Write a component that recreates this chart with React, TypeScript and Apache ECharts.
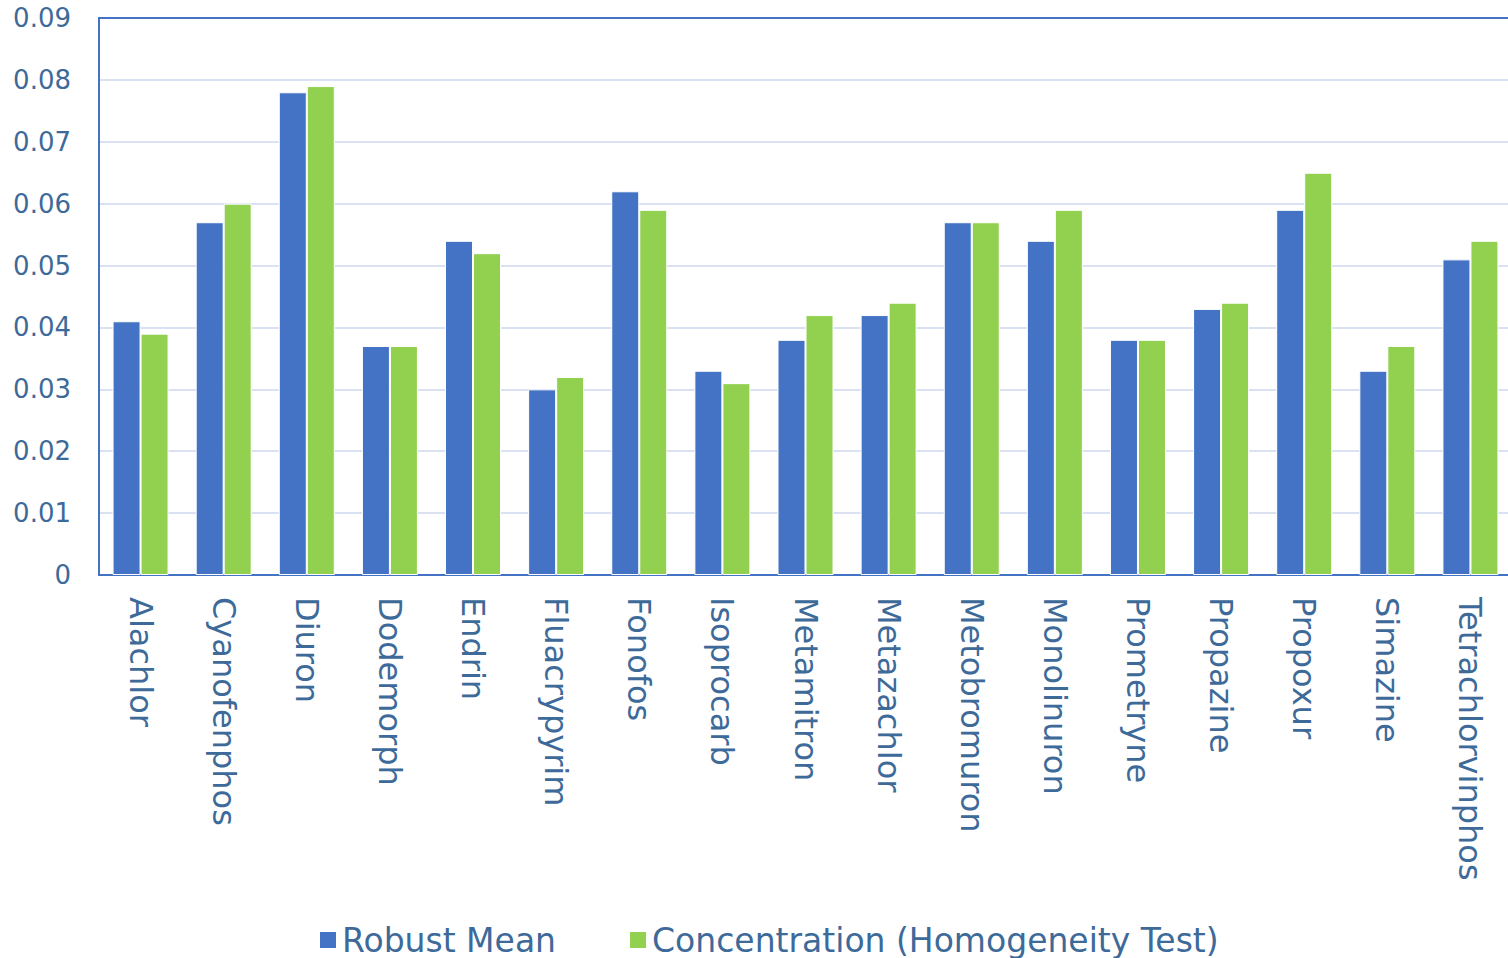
import React, { useEffect, useRef } from "react";
import * as echarts from "echarts";

const categories = [
  "Alachlor", "Cyanofenphos", "Diuron", "Dodemorph", "Endrin", "Fluacrypyrim",
  "Fonofos", "Isoprocarb", "Metamitron", "Metazachlor", "Metobromuron",
  "Monolinuron", "Prometryne", "Propazine", "Propoxur", "Simazine", "Tetrachlorvinphos",
];
const robustMean = [
  0.041, 0.057, 0.078, 0.037, 0.054, 0.030, 0.062, 0.033, 0.038, 0.042, 0.057,
  0.054, 0.038, 0.043, 0.059, 0.033, 0.051,
];
const concentration = [
  0.039, 0.060, 0.079, 0.037, 0.052, 0.032, 0.059, 0.031, 0.042, 0.044, 0.057,
  0.059, 0.038, 0.044, 0.065, 0.037, 0.054,
];
const seriesNames = ["Robust Mean", "Concentration (Homogeneity Test)"];

const TEXT = "#3d6a99";
const FONT = "DejaVu Sans";
const AXIS = "#4472C4";

export default function App() {
  const ref = useRef<HTMLDivElement>(null);
  useEffect(() => {
    if (!ref.current) return;
    const chart = echarts.init(ref.current, null, { renderer: "svg" });
    chart.setOption({
      animation: false,
      backgroundColor: "#ffffff",
      textStyle: { fontFamily: FONT, color: TEXT },
      grid: {
        left: 99,
        top: 18,
        right: 0,
        bottom: 383,
      },
      legend: {
        left: 313,
        top: 917,
        itemWidth: 18,
        itemHeight: 18,
        itemGap: 72,
        icon: "rect",
        textStyle: { fontFamily: FONT, fontSize: 33, lineHeight: 36, color: TEXT },
        data: seriesNames,
      },
      xAxis: [
        {
          type: "category",
          data: categories,
          axisLine: { show: true, lineStyle: { color: AXIS, width: 2 } },
          axisTick: { show: false },
          axisLabel: {
            rotate: -90,
            margin: 22,
            interval: 0,
            fontFamily: FONT,
            fontSize: 32,
            color: TEXT,
          },
        },
        {
          type: "category",
          data: categories,
          position: "top",
          axisLine: { show: true, lineStyle: { color: AXIS, width: 2 } },
          axisTick: { show: false },
          axisLabel: { show: false },
          splitLine: { show: false },
          z: 5,
        },
      ],
      yAxis: {
        type: "value",
        min: 0,
        max: 0.09,
        interval: 0.01,
        axisLine: { show: true, lineStyle: { color: AXIS, width: 2 } },
        axisTick: { show: false },
        splitLine: { lineStyle: { color: "#D9E1F2", width: 2 } },
        axisLabel: {
          margin: 28,
          fontFamily: FONT,
          fontSize: 26,
          color: TEXT,
          formatter: (v: number) => (v === 0 ? "0" : v.toFixed(2)),
        },
      },
      series: [
        {
          name: seriesNames[0],
          type: "bar",
          data: robustMean,
          barWidth: 28,
          barGap: "0%",
          itemStyle: { color: "#4472C4", borderColor: "#ffffff", borderWidth: 1 },
        },
        {
          name: seriesNames[1],
          type: "bar",
          data: concentration,
          barWidth: 28,
          barGap: "0%",
          itemStyle: { color: "#92D050", borderColor: "#ffffff", borderWidth: 1 },
        },
      ],
    });
    return () => chart.dispose();
  }, []);
  return (
    <div style={{ position: "fixed", left: 0, top: 0, width: 1508, height: 958, overflow: "hidden", background: "#fff" }}>
      <div ref={ref} style={{ width: 1512, height: 958 }} />
    </div>
  );
}
